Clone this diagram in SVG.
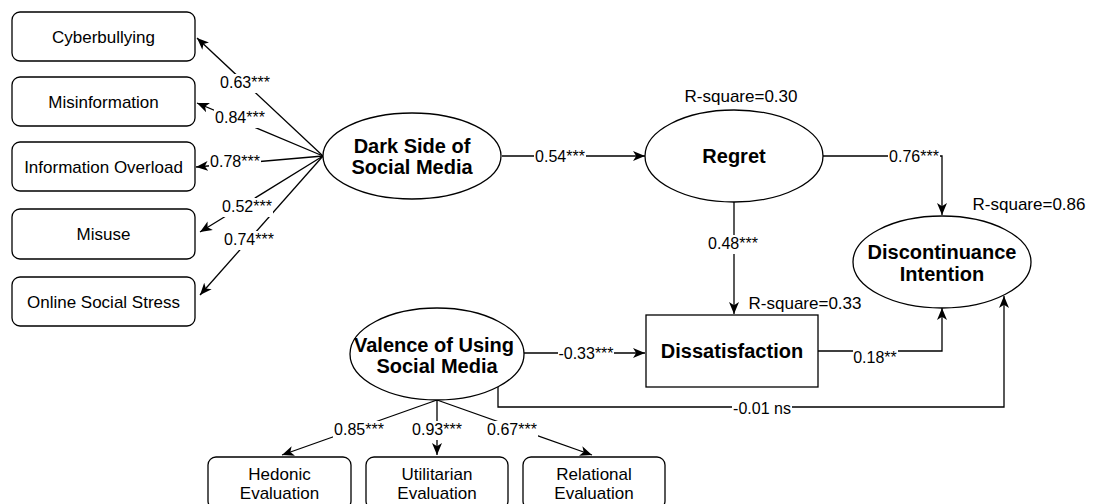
<svg xmlns="http://www.w3.org/2000/svg" width="1093" height="504" viewBox="0 0 1093 504">
  <style>
    .box { fill: #fff; stroke: #000; stroke-width: 1.3; }
    .lat { fill: #fff; stroke: #000; stroke-width: 1.3; }
    .txt { font-family: "Liberation Sans", Arial, Helvetica, sans-serif; font-size: 17px; fill: #000; text-anchor: middle; }
    .bold { font-family: "Liberation Sans", Arial, Helvetica, sans-serif; font-size: 20px; font-weight: bold; fill: #000; text-anchor: middle; }
    .lbl { font-family: "Liberation Sans", Arial, Helvetica, sans-serif; font-size: 16px; fill: #000; text-anchor: middle; }
    .edge { fill: none; stroke: #000; stroke-width: 1.3; marker-end: url(#arrow); }
    .bg { fill: #fff; stroke: none; }
  </style>
  <defs>
    <marker id="arrow" markerUnits="userSpaceOnUse" markerWidth="13" markerHeight="11" viewBox="0 0 13 11" refX="12" refY="5.5" orient="auto">
      <path d="M0,0.5 L12,5.5 L0,10.5 L3.2,5.5 Z" fill="#000"/>
    </marker>
  </defs>

  <rect width="1093" height="504" fill="#fff"/>

  <!-- connectors -->
  <g id="connectors">
    <line class="edge" x1="323" y1="156" x2="197" y2="38"/>
    <line class="edge" x1="323" y1="156" x2="197" y2="103"/>
    <line class="edge" x1="323" y1="156" x2="196" y2="167"/>
    <line class="edge" x1="323" y1="156" x2="200" y2="232"/>
    <line class="edge" x1="323" y1="156" x2="200" y2="295"/>
    <line class="edge" x1="502" y1="156" x2="645" y2="156"/>
    <path class="edge" d="M823,156 H942 V215"/>
    <line class="edge" x1="734" y1="202" x2="734" y2="314"/>
    <line class="edge" x1="524" y1="353" x2="645" y2="353"/>
    <path class="edge" d="M818,351 H942 V308"/>
    <path class="edge" d="M498,387 V407 H1004 V296"/>
    <line class="edge" x1="437" y1="400" x2="282" y2="455"/>
    <line class="edge" x1="437" y1="400" x2="437" y2="455"/>
    <line class="edge" x1="437" y1="400" x2="592" y2="455"/>

    <!-- path coefficients on white backgrounds -->
    <rect class="bg" x="219" y="74" width="52" height="19"/>
    <text class="lbl" x="245" y="88">0.63***</text>
    <rect class="bg" x="214" y="109" width="52" height="19"/>
    <text class="lbl" x="240" y="123">0.84***</text>
    <rect class="bg" x="209" y="153" width="52" height="19"/>
    <text class="lbl" x="235" y="167">0.78***</text>
    <rect class="bg" x="221" y="198" width="52" height="19"/>
    <text class="lbl" x="247" y="212">0.52***</text>
    <rect class="bg" x="223" y="231" width="52" height="19"/>
    <text class="lbl" x="249" y="245">0.74***</text>
    <rect class="bg" x="534" y="148" width="52" height="19"/>
    <text class="lbl" x="560" y="162">0.54***</text>
    <rect class="bg" x="888" y="148" width="52" height="19"/>
    <text class="lbl" x="914" y="162">0.76***</text>
    <rect class="bg" x="707" y="235" width="52" height="19"/>
    <text class="lbl" x="733" y="249">0.48***</text>
    <rect class="bg" x="558" y="345" width="56" height="19"/>
    <text class="lbl" x="586" y="359">-0.33***</text>
    <rect class="bg" x="853" y="349" width="45" height="19"/>
    <text class="lbl" x="875" y="363">0.18**</text>
    <rect class="bg" x="732" y="400" width="60" height="19"/>
    <text class="lbl" x="762" y="414">-0.01 ns</text>
    <rect class="bg" x="333" y="421" width="52" height="19"/>
    <text class="lbl" x="359" y="435">0.85***</text>
    <rect class="bg" x="411" y="421" width="52" height="19"/>
    <text class="lbl" x="437" y="435">0.93***</text>
    <rect class="bg" x="486" y="421" width="52" height="19"/>
    <text class="lbl" x="512" y="435">0.67***</text>
  </g>

  <!-- indicators of the dark side construct -->
  <g id="cyberbullying">
    <rect class="box" x="12" y="12" width="183" height="49" rx="8"/>
    <text class="txt" x="103.5" y="42.5">Cyberbullying</text>
  </g>
  <g id="misinformation">
    <rect class="box" x="12" y="77" width="183" height="49" rx="8"/>
    <text class="txt" x="103.5" y="107.5">Misinformation</text>
  </g>
  <g id="information-overload">
    <rect class="box" x="12" y="142" width="183" height="49" rx="8"/>
    <text class="txt" x="103.5" y="172.5">Information Overload</text>
  </g>
  <g id="misuse">
    <rect class="box" x="12" y="209" width="183" height="50" rx="8"/>
    <text class="txt" x="103.5" y="240">Misuse</text>
  </g>
  <g id="online-social-stress">
    <rect class="box" x="12" y="277" width="183" height="49" rx="8"/>
    <text class="txt" x="103.5" y="307.5">Online Social Stress</text>
  </g>

  <!-- latent constructs -->
  <g id="dark-side">
    <ellipse class="lat" cx="412" cy="156" rx="89" ry="43"/>
    <text class="bold" x="412" y="153">Dark Side of</text>
    <text class="bold" x="412" y="174">Social Media</text>
  </g>
  <g id="regret">
    <ellipse class="lat" cx="734" cy="156" rx="89" ry="46"/>
    <text class="bold" x="734" y="163">Regret</text>
    <text class="txt" x="741" y="102">R-square=0.30</text>
  </g>
  <g id="discontinuance">
    <ellipse class="lat" cx="942" cy="262" rx="89" ry="46"/>
    <text class="bold" x="942" y="259">Discontinuance</text>
    <text class="bold" x="942" y="281">Intention</text>
    <text class="txt" x="1029" y="210">R-square=0.86</text>
  </g>
  <g id="dissatisfaction">
    <rect class="box" x="646" y="315" width="172" height="72"/>
    <text class="bold" x="732" y="358">Dissatisfaction</text>
    <text class="txt" x="805" y="309">R-square=0.33</text>
  </g>
  <g id="valence">
    <ellipse class="lat" cx="437" cy="354" rx="87" ry="46"/>
    <text class="bold" x="434" y="352">Valence of Using</text>
    <text class="bold" x="437" y="373">Social Media</text>
  </g>

  <!-- indicators of valence -->
  <g id="hedonic">
    <rect class="box" x="208" y="457" width="143" height="52" rx="8"/>
    <text class="txt" x="279.5" y="480">Hedonic</text>
    <text class="txt" x="279.5" y="499">Evaluation</text>
  </g>
  <g id="utilitarian">
    <rect class="box" x="366" y="457" width="142" height="52" rx="8"/>
    <text class="txt" x="437" y="480">Utilitarian</text>
    <text class="txt" x="437" y="499">Evaluation</text>
  </g>
  <g id="relational">
    <rect class="box" x="523" y="457" width="142" height="52" rx="8"/>
    <text class="txt" x="594" y="480">Relational</text>
    <text class="txt" x="594" y="499">Evaluation</text>
  </g>
</svg>
